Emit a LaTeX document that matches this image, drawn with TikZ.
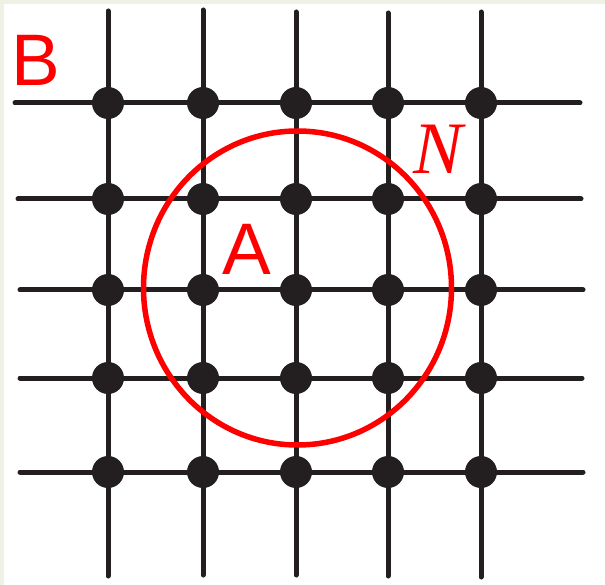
\documentclass[tikz,border=0pt]{standalone}
\usepackage{fontspec}
\setmainfont{Liberation Sans}
\newfontfamily\serifit{Liberation Serif}
\usetikzlibrary{positioning, shapes.geometric}
\definecolor{wirecol}{HTML}{231F20}
\definecolor{markcol}{HTML}{FF0000}
\definecolor{framecol}{HTML}{EEF1E3}

\begin{document}
\begin{tikzpicture}[
  x=1pt, y=-1pt,
  wire/.style={draw=wirecol, line width=5pt, line cap=round},
  site/.style={circle, fill=wirecol, minimum size=32pt, inner sep=0pt},
  ring/.style={ellipse, draw=markcol, line width=5.5pt, minimum width=308pt, minimum height=314pt, inner sep=0pt},
  lbl/.style={text=markcol, inner sep=0pt, anchor=base, font=\fontsize{73}{73}\selectfont},
]
\fill[framecol] (0,0) rectangle (605,585);
\fill[white] (4,4) rectangle (605,585);
\useasboundingbox (0,0) rectangle (605,585);

% lattice lines
\foreach \y/\xa/\xb in {103/15/580, 199/18/581, 290/20/583, 378/20/582, 472/20/583}
  \draw[wire] (\xa,\y) -- (\xb,\y);
\foreach \x/\ya/\yb in {108/11/576, 203/10/575, 296/12/575, 388/13/576, 481/12/577}
  \draw[wire] (\x,\ya) -- (\x,\yb);

% lattice sites
\foreach \y [count=\r] in {103, 199, 290, 378, 472}
  \foreach \x [count=\c] in {108, 203, 296, 388, 481}
    \node[site] (s\r\c) at (\x,\y) {};

% neighbourhood
\node[ring] (nbhd) at (297.5,288) {};

\node[lbl] (lblB) at (36,86) {B};
\node[lbl] (lblA) at (247,275) {A};
\node[lbl, font=\fontsize{74}{74}\selectfont\serifit\itshape] (lblN) at (438,174) {N};
\end{tikzpicture}
\end{document}
